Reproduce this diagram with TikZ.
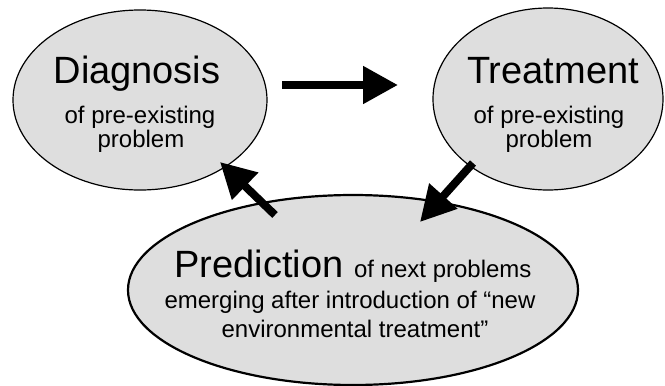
\documentclass[tikz,border=0pt]{standalone}
\usepackage{fontspec}
\setmainfont{Liberation Sans}
\usetikzlibrary{arrows.meta,shapes.geometric}
\definecolor{ellfill}{RGB}{222,222,222}
\tikzset{
  ell/.style={ellipse, draw=black, fill=ellfill, inner sep=0pt, line width=1.2pt},
  bigtxt/.style={anchor=base, inner sep=0pt, font=\fontsize{38}{40}\selectfont},
  smalltxt/.style={anchor=base, inner sep=0pt, font=\fontsize{24}{26}\selectfont},
  bigarrow/.style={line width=8pt, -{Triangle[length=35pt,width=36pt]}}
}
\begin{document}
\begin{tikzpicture}[x=1pt,y=-1pt]
\useasboundingbox (0,0) rectangle (665,386);
% ellipses
\node[ell, minimum width=254pt, minimum height=180pt] (diag) at (140,100) {};
\node[ell, minimum width=230pt, minimum height=182pt] (treat) at (548,99) {};
\node[ell, line width=2.2pt, minimum width=450pt, minimum height=190pt] (pred) at (353,290) {};
% texts
\node[bigtxt] (diagT) at (137,83) {Diagnosis};
\node[smalltxt] (diagA) at (140,123) {of pre-existing};
\node[smalltxt] (diagB) at (141,147) {problem};
\node[bigtxt] (treatT) at (553,83) {Treatment};
\node[smalltxt] (treatA) at (549,123) {of pre-existing};
\node[smalltxt] (treatB) at (549,147) {problem};
\node[anchor=base, inner sep=0pt] (predT) at (353,277) {{\fontsize{38}{40}\selectfont Prediction\ }{\fontsize{24}{26}\selectfont of next problems}};
\node[smalltxt] (predA) at (350,308) {emerging after introduction of “new};
\node[smalltxt] (predB) at (355,337) {environmental treatment”};
% arrow ends
\coordinate (h1) at (282,85);
\coordinate (h2) at (398,85);
\coordinate (l1) at (275,215);
\coordinate (l2) at (220,162);
\coordinate (r1) at (473,163);
\coordinate (r2) at (420,222);
\draw[bigarrow] (h1) -- (h2);
\draw[bigarrow] (l1) -- (l2);
\draw[bigarrow] (r1) -- (r2);
\end{tikzpicture}
\end{document}
